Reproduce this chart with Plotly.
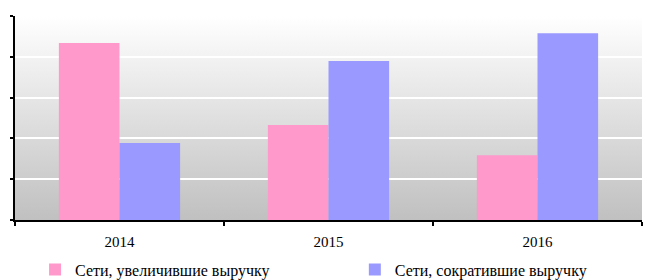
import base64
import plotly.graph_objects as go

years = ["2014", "2015", "2016"]
increased = [43.4, 23.3, 15.9]
decreased = [18.9, 39.0, 45.8]
series_names = ["Сети, увеличившие выручку", "Сети, сократившие выручку"]
colors = ["#ff99cc", "#9999ff"]

svg = ("<svg xmlns='http://www.w3.org/2000/svg' width='100' height='100' viewBox='0 0 100 100' "
       "preserveAspectRatio='none'><defs><linearGradient id='g' x1='0' y1='0' x2='0' y2='1'>"
       "<stop offset='0' stop-color='#ffffff'/><stop offset='1' stop-color='#c0c0c0'/>"
       "</linearGradient></defs><rect width='100' height='100' fill='url(#g)'/></svg>")
src = "data:image/svg+xml;base64," + base64.b64encode(svg.encode()).decode()

font = dict(family="Liberation Serif", size=15, color="black")
legfont = dict(family="Liberation Serif", size=16, color="black")

fig = go.Figure()
fig.add_trace(go.Bar(x=years, y=increased, name=series_names[0], legend="legend",
                     marker=dict(color=colors[0], line=dict(width=0))))
fig.add_trace(go.Bar(x=years, y=decreased, name=series_names[1], legend="legend2",
                     marker=dict(color=colors[1], line=dict(width=0))))

leg_common = dict(orientation="h", xanchor="left", y=-0.16, yanchor="top", font=legfont,
                  bgcolor="rgba(0,0,0,0)", itemwidth=30)

fig.update_layout(
    width=647, height=280,
    margin=dict(l=15, r=5, t=16, b=60, autoexpand=False),
    paper_bgcolor="white",
    plot_bgcolor="rgba(0,0,0,0)",
    barmode="group", bargap=0.42, bargroupgap=0,
    font=font,
    images=[dict(source=src, xref="paper", yref="paper", x=0, y=1, sizex=1, sizey=1,
                 xanchor="left", yanchor="top", sizing="stretch", layer="below")],
    legend=dict(x=0.032, **leg_common),
    legend2=dict(x=0.542, **leg_common),
    showlegend=True,
)
fig.update_xaxes(showline=True, linecolor="black", linewidth=1.5, ticks="outside", ticklen=4,
                 tickwidth=1.5, tickcolor="black", tickson="boundaries", showgrid=False,
                 tickfont=font, ticklabelstandoff=7)
fig.update_yaxes(range=[0, 50], dtick=10, showline=True, linecolor="black", linewidth=1.5,
                 ticks="outside", ticklen=3, tickwidth=1.5, tickcolor="black",
                 showticklabels=False, showgrid=True, gridcolor="white", gridwidth=1.5,
                 zeroline=False)

fig.write_html("out.html", config={"displayModeBar": False},
               post_script="document.body.style.margin='0';document.body.style.overflow='hidden';")
